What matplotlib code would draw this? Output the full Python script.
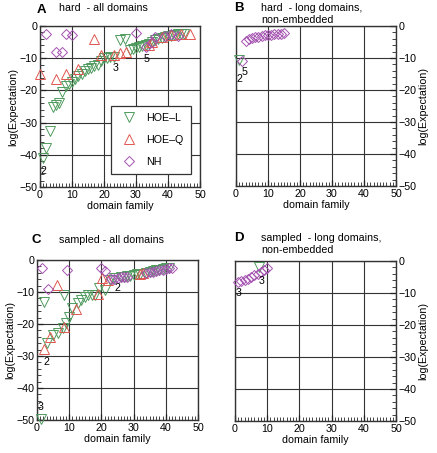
import matplotlib
matplotlib.use('Agg')
import matplotlib.pyplot as plt
from matplotlib.ticker import MultipleLocator

plt.rcParams['font.family'] = ['Liberation Sans', 'DejaVu Sans']
plt.rcParams['font.size'] = 7.7

green = '#4f9a5e'
red = '#e0564f'
purple = '#a452b0'

# panel A: hard - all domains
a_l_x = [1, 2, 3, 4, 5, 6, 7, 8, 9, 10, 11, 12, 13, 14, 15, 16, 17, 18, 19, 20,
         21, 22, 23, 25, 26.5, 28, 29, 30, 31, 32, 33, 34, 35, 36, 37, 38, 39, 40,
         41, 42, 43, 44, 45]
a_l_y = [-41, -38, -32.5, -25, -24.5, -24, -20.5, -18.5, -18, -17.5, -16.5, -15.5,
         -15, -14, -13.5, -13, -12.5, -12, -11, -10, -10, -9.5, -9.5, -4.2, -4,
         -7.5, -7, -6.8, -6.5, -6.2, -6, -5.5, -5, -4.5, -4, -3.8, -3.5, -3.2,
         -3, -2.8, -2.6, -2.5, -2.5]
a_q_x = [0, 5, 8, 12, 17, 19, 23, 25, 27, 34, 35, 38, 41, 44, 47]
a_q_y = [-15, -16.5, -15, -13.5, -4, -9, -9, -8.5, -8, -6, -5, -3.5, -2.8, -2.5, -2.5]
a_n_x = [2, 5, 7, 8, 10, 30, 33, 35, 36, 39, 41, 43]
a_n_y = [-2.5, -8, -8, -2.5, -2.7, -2.3, -6.5, -5, -3.5, -3, -2.5, -3]

# panel B: hard - long domains, non-embedded
b_l_x = [1]
b_l_y = [-10.5]
b_n_x = [1.8, 3, 4, 5, 6, 7, 8, 9, 10, 11, 12, 13, 14, 15]
b_n_y = [-10.8, -4.6, -4.2, -3.8, -3.5, -3.3, -3.1, -2.9, -2.8, -2.7, -2.6, -2.5,
         -2.4, -2.3]

# panel C: sampled - all domains
c_l_x = [1.3, 2.2, 8.3, 3, 5, 6.5, 8, 9, 10, 11, 12.7, 13.8, 14.8, 15.8, 17, 18,
         19.3, 21, 22.6, 24, 26, 27, 28, 29, 30, 31, 32, 34, 35, 36, 37, 38, 39,
         40, 41]
c_l_y = [-49.7, -13.2, -11, -26, -23.4, -22.8, -21.4, -19.8, -17.7, -15, -13.5,
         -12.5, -11.5, -11, -11, -10.8, -8.9, -9.4, -6.2, -5.5, -5.3, -5.2, -5,
         -4.9, -4.7, -4.5, -4.3, -4, -3.8, -3.5, -3.2, -3, -2.8, -2.6, -2.5]
c_q_x = [2.2, 4.1, 6.2, 8.3, 12.2, 18.9, 20.2, 22, 32, 33]
c_q_y = [-27.8, -24, -7.8, -20.8, -15.4, -10.7, -5.5, -6.3, -4.5, -4.2]
c_n_x = [1.5, 3.4, 9.4, 20, 21, 23, 24, 25, 26, 27, 28, 34, 35, 36, 37, 38, 39,
         40, 41, 42]
c_n_y = [-2.6, -9, -3, -2.6, -3.3, -6, -5.8, -5.6, -5.4, -5.3, -5.2, -4, -3.8,
         -3.6, -3.4, -3.2, -3, -2.8, -2.6, -2.5]

# panel D: sampled - long domains, non-embedded
d_l_x = [7.6]
d_l_y = [-2.0]
d_n_x = [1, 2, 3, 4, 5, 6, 7, 8, 9, 10]
d_n_y = [-6.7, -6.3, -6, -5.5, -5, -4.5, -4, -3.4, -2.8, -2.3]

# annotations (x, y, text)
a_notes = [(1, -45, '2'), (23.6, -13, '3'), (33.3, -10.3, '5')]
b_notes = [(1, -16.5, '2'), (2.6, -14.4, '5')]
c_notes = [(2.9, -32, '2'), (25, -8.9, '2'), (1, -45.8, '3')]
d_notes = [(1.1, -10.1, '3'), (8.1, -6.2, '3')]

W, H = 437, 453
fig = plt.figure(figsize=(W / 100, H / 100), dpi=100)


def frame(px_left, px_top, px_w, px_h, right=False):
    ax = fig.add_axes([px_left / W, 1 - (px_top + px_h) / H, px_w / W, px_h / H])
    ax.set_xlim(0, 50)
    ax.set_ylim(-50, 0)
    ax.xaxis.set_major_locator(MultipleLocator(10))
    ax.yaxis.set_major_locator(MultipleLocator(10))
    ax.xaxis.set_minor_locator(MultipleLocator(1))
    ax.yaxis.set_minor_locator(MultipleLocator(2))
    ax.grid(True, which='major', color='#333333', lw=0.8, zorder=0)
    ax.tick_params(which='major', direction='in', length=4, width=0.9,
                   labelsize=7.7, pad=2, color='#222222', top=False)
    ax.tick_params(which='minor', direction='in', length=3, width=0.7,
                   color='#444444', top=False)
    if right:
        ax.yaxis.tick_right()
        ax.yaxis.set_label_position('right')
        ax.tick_params(which='both', left=False, right=True)
    else:
        ax.tick_params(which='both', right=False, left=True)
    ax.tick_params(which='both', bottom=True)
    for s in ax.spines.values():
        s.set_linewidth(1.0)
        s.set_color('#333333')
    ax.set_xlabel('domain family', labelpad=1)
    ax.set_ylabel('log(Expectation)', labelpad=1)
    return ax


def pts(ax, x, y, m, c, label=None, ms=7):
    ax.plot(x, y, ls='none', marker=m, ms=ms, mfc='none', mec=c, mew=0.7,
            label=label, clip_on=False, zorder=3)


def notes(ax, lst):
    for x, y, t in lst:
        ax.text(x, y, t, fontsize=7.7, ha='center', va='center')


axA = frame(40, 26, 160, 161)
pts(axA, a_l_x, a_l_y, 'v', green, 'HOE\u2013L')
pts(axA, a_q_x, a_q_y, '^', red, 'HOE\u2013Q')
pts(axA, a_n_x, a_n_y, 'D', purple, 'NH', ms=4.8)
notes(axA, a_notes)
leg = axA.legend(loc='lower right', bbox_to_anchor=(0.945, 0.08),
                 borderaxespad=0, fancybox=False, edgecolor='#333333',
                 framealpha=1, labelspacing=1.1, handletextpad=0.6,
                 borderpad=0.7, fontsize=7.7)
leg.get_frame().set_linewidth(0.9)
fig.text(37 / W, 1 - 10 / H, 'A', fontsize=9.5, weight='bold', va='center')
fig.text(59 / W, 1 - 8 / H, 'hard  - all domains', fontsize=7.7, va='center')

axB = frame(236, 26, 160, 160, right=True)
pts(axB, b_l_x, b_l_y, 'v', green)
pts(axB, b_n_x, b_n_y, 'D', purple, ms=4.8)
notes(axB, b_notes)
fig.text(234 / W, 1 - 8 / H, 'B', fontsize=9.5, weight='bold', va='center')
fig.text(261 / W, 1 - 8 / H, 'hard  - long domains,', fontsize=7.7, va='center')
fig.text(261 / W, 1 - 20 / H, 'non-embedded', fontsize=7.7, va='center')

axC = frame(37, 260, 161, 160)
pts(axC, c_l_x, c_l_y, 'v', green)
pts(axC, c_q_x, c_q_y, '^', red)
pts(axC, c_n_x, c_n_y, 'D', purple, ms=4.8)
notes(axC, c_notes)
fig.text(32 / W, 1 - 240 / H, 'C', fontsize=9.5, weight='bold', va='center')
fig.text(59 / W, 1 - 240 / H, 'sampled - all domains', fontsize=7.7, va='center')

axD = frame(235, 261, 161, 160, right=True)
pts(axD, d_l_x, d_l_y, 'v', green)
pts(axD, d_n_x, d_n_y, 'D', purple, ms=4.8)
notes(axD, d_notes)
fig.text(234 / W, 1 - 238 / H, 'D', fontsize=9.5, weight='bold', va='center')
fig.text(261 / W, 1 - 238 / H, 'sampled  - long domains,', fontsize=7.7, va='center')
fig.text(261 / W, 1 - 250 / H, 'non-embedded', fontsize=7.7, va='center')

fig.savefig('out.png', dpi=100)
